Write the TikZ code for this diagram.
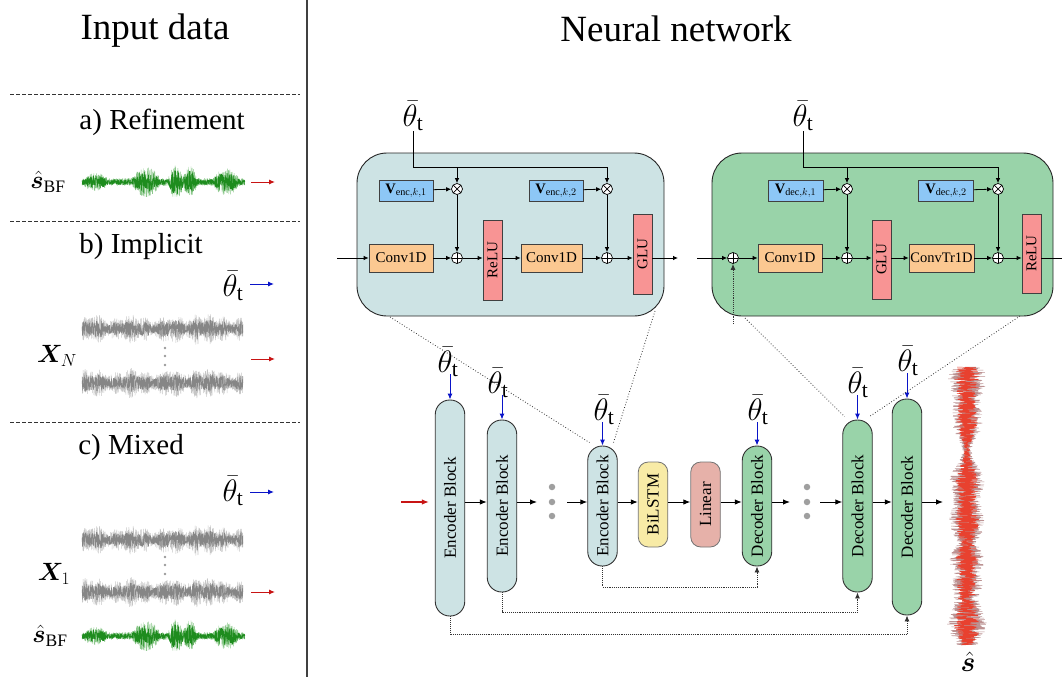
\RequirePackage{fix-cm}
\documentclass[tikz,border=0pt]{standalone}
\usepackage{amsmath}
\usepackage{bm}
\usepackage{fontspec}
\setmainfont{Liberation Serif}
\usetikzlibrary{arrows.meta,calc}

\definecolor{encfill}{HTML}{CDE3E4}
\definecolor{decfill}{HTML}{99D3A9}
\definecolor{vfill}{HTML}{8DC7F6}
\definecolor{convfill}{HTML}{FBC891}
\definecolor{actfill}{HTML}{F89494}
\definecolor{lstmfill}{HTML}{F8EBA6}
\definecolor{linfill}{HTML}{E6B1A9}
\definecolor{condblue}{HTML}{0A14C8}
\definecolor{inred}{HTML}{C81414}
\definecolor{wgreen}{HTML}{1E8C1E}
\definecolor{wgreenlt}{HTML}{8CC88C}
\definecolor{wgray}{HTML}{868686}
\definecolor{wgraylt}{HTML}{C6C6C6}
\definecolor{wred}{HTML}{E8412F}
\definecolor{wredlt}{HTML}{BC9292}

\newcommand{\condtheta}{$\bar{\theta}_{\mathrm{t}}$}
\newcommand{\sbf}{$\hat{\bm{s}}_{\mathrm{BF}}$}

\begin{document}
\begin{tikzpicture}[
  x=1pt, y=-1pt,
  declare function={
    bump(\x,\c,\w)=max(0,1-((\x-\c)/\w)*((\x-\c)/\w));
    grn(\x)=0.26+0.75*bump(\x,64,14)+0.85*bump(\x,94,8)+0.8*bump(\x,108,7)+0.65*bump(\x,144,13)+0.35*bump(\x,14,12);
    gry(\x)=0.7+0.14*sin(9*\x)+0.12*sin(23*\x+50)+0.4*bump(\x,115,5);
    rdv(\x)=0.55+0.2*sin(3.3*\x)+0.15*sin(7.1*\x+30)+0.5*bump(\x,190,14);
  },
  ttl/.style={font=\fontsize{37}{42}\selectfont, inner sep=0pt},
  case/.style={font=\fontsize{29}{33}\selectfont, inner sep=0pt},
  sig/.style={font=\fontsize{25}{28}\selectfont, inner sep=0pt},
  cond/.style={font=\fontsize{31}{34}\selectfont, inner sep=0pt},
  vsep/.style={draw=black!75, line width=1.1pt},
  divider/.style={draw=black!80, line width=0.8pt, dash pattern=on 3.5pt off 2.5pt},
  inarrow/.style={draw=inred, line width=1pt, -{Latex[length=6pt,width=5pt]}},
  condarrow/.style={draw=condblue, line width=1pt, -{Latex[length=6pt,width=5pt]}},
  blk/.style={draw=black!80, line width=0.9pt, rounded corners=14.5pt, minimum width=29.5pt, inner sep=0pt, font=\fontsize{17}{19}\selectfont},
  encblk/.style={blk, fill=encfill},
  decblk/.style={blk, fill=decfill},
  midblk/.style={draw=black!55, line width=0.8pt, rounded corners=10pt, minimum width=29.5pt, minimum height=85pt, inner sep=0pt, font=\fontsize{17}{19}\selectfont},
  flowarrow/.style={draw=black, line width=1pt, -{Latex[length=7pt,width=5.5pt]}},
  skipline/.style={draw=black!80, line width=0.9pt, densely dotted, -{Latex[length=6pt,width=5pt]}},
  zoomline/.style={draw=black!80, line width=0.8pt, dotted},
  panel/.style={draw=black!85, line width=0.9pt, rounded corners=30pt, inner sep=0pt},
  op/.style={draw=black!75, line width=0.7pt, inner sep=0pt, minimum height=28pt, font=\fontsize{15}{17}\selectfont},
  conv/.style={op, fill=convfill},
  act/.style={op, fill=actfill, minimum width=19pt, minimum height=80pt},
  vec/.style={draw=black!75, line width=0.7pt, fill=vfill, inner sep=0pt, minimum width=54pt, minimum height=21pt, font=\fontsize{14.5}{16}\selectfont},
  sumnode/.style={circle, draw=black, line width=0.7pt, fill=white, minimum size=11pt, inner sep=0pt,
    path picture={\draw[line width=0.7pt] (path picture bounding box.north) -- (path picture bounding box.south)
      (path picture bounding box.west) -- (path picture bounding box.east);}},
  prodnode/.style={circle, draw=black, line width=0.7pt, fill=white, minimum size=11pt, inner sep=0pt,
    path picture={\draw[line width=0.7pt] (path picture bounding box.north west) -- (path picture bounding box.south east)
      (path picture bounding box.north east) -- (path picture bounding box.south west);}},
  wire/.style={draw=black, line width=0.8pt},
  warrow/.style={wire, -{Latex[length=5pt,width=4.5pt]}},
  cdot/.style={circle, fill=gray!75, inner sep=0pt, minimum size=6.5pt},
  sdot/.style={circle, fill=gray!80, inner sep=0pt, minimum size=2.6pt},
  pics/greenwave/.style={code={
    \pgfmathsetseed{41}
    \draw[wgreenlt, line width=0.45pt, line join=bevel] plot[domain=0:163, samples=1100] (\x, {15*grn(\x)*rand});
    \pgfmathsetseed{42}
    \draw[wgreen, line width=0.45pt, line join=bevel] plot[domain=0:163, samples=1100] (\x, {11*grn(\x)*rand});
  }},
  pics/graywave/.style={code={
    \pgfmathsetseed{#1}
    \draw[wgraylt, line width=0.45pt, line join=bevel] plot[domain=0:161, samples=1000] (\x, {16*gry(\x)*rand});
    \pgfmathsetseed{#1+5}
    \draw[wgray, line width=0.45pt, line join=bevel] plot[domain=0:161, samples=1000] (\x, {10*gry(\x)*rand});
  }},
  pics/redwave/.style={code={
    \pgfmathsetseed{77}
    \draw[wredlt, line width=0.45pt, line join=bevel] plot[variable=\t, domain=0:278, samples=1800] ({24*rdv(\t)*rand}, \t);
    \pgfmathsetseed{78}
    \draw[wred, line width=0.45pt, line join=bevel] plot[variable=\t, domain=0:278, samples=1800] ({16*rdv(\t)*rand}, \t);
  }}
]
\useasboundingbox (0,0) rectangle (1062,677);

% ---------------- input data column ----------------
\draw[vsep] (307,0) -- (307,677);
\node[ttl] (tin) at (155,31) {Input data};
\node[ttl] (tnn) at (676,29) {Neural network};
\draw[divider] (10,94) -- (300,94);
\draw[divider] (10,221) -- (300,221);
\draw[divider] (10,422) -- (300,422);

% a) refinement
\node[case] (ca) at (162,122) {a) Refinement};
\node[sig] (sa) at (48,182) {\sbf};
\pic at (82,182) {greenwave};
\coordinate (ra0) at (251,182); \coordinate (ra1) at (275,182);
\draw[inarrow] (ra0) -- (ra1);

% b) implicit
\node[case] (cb) at (141,247) {b) Implicit};
\node[cond] (tb) at (233,286) {\condtheta};
\coordinate (ba0) at (250,284); \coordinate (ba1) at (274,284);
\draw[condarrow] (ba0) -- (ba1);
\pic at (82,329) {graywave=11};
\pic at (82,383) {graywave=23};
\node[sdot] (bd1) at (165,348) {};
\node[sdot] (bd2) at (165,356) {};
\node[sdot] (bd3) at (165,365) {};
\node[sig] (xn) at (57,356) {$\bm{X}_{N}$};
\coordinate (rb0) at (251,359); \coordinate (rb1) at (275,359);
\draw[inarrow] (rb0) -- (rb1);

% c) mixed
\node[case] (cc) at (131,448) {c) Mixed};
\node[cond] (tc) at (233,491) {\condtheta};
\coordinate (bc0) at (250,492); \coordinate (bc1) at (274,492);
\draw[condarrow] (bc0) -- (bc1);
\pic at (82,540) {graywave=11};
\pic at (82,592) {graywave=23};
\node[sdot] (cd1) at (165,557) {};
\node[sdot] (cd2) at (165,565) {};
\node[sdot] (cd3) at (165,574) {};
\node[sig] (x1) at (54,574) {$\bm{X}_{1}$};
\coordinate (rc0) at (251,592); \coordinate (rc1) at (275,592);
\draw[inarrow] (rc0) -- (rc1);
\pic at (82,636) {greenwave};
\node[sig] (sc) at (50,636) {\sbf};

% ---------------- encoder block detail ----------------
\node[panel, fill=encfill, minimum width=307pt, minimum height=163pt] (ebox) at (510.5,234.5) {};
\node[cond] (tE) at (413,116) {\condtheta};
\node[vec] (vE1) at (406,190.5) {$\mathbf{V}_{\mathrm{enc},k,1}$};
\node[vec] (vE2) at (556,190.5) {$\mathbf{V}_{\mathrm{enc},k,2}$};
\node[prodnode] (mE1) at (457,189) {};
\node[prodnode] (mE2) at (607,189) {};
\node[conv, minimum width=64pt] (cE1) at (401,258) {Conv1D};
\node[sumnode] (pE1) at (457,258) {};
\node[act] (rE) at (492.5,260) {\rotatebox{90}{ReLU}};
\node[conv, minimum width=61pt] (cE2) at (551.5,258) {Conv1D};
\node[sumnode] (pE2) at (607,258) {};
\node[act] (gE) at (642.5,254) {\rotatebox{90}{GLU}};
\coordinate (jE) at (0,167);
\coordinate (inE) at (337,258);
\coordinate (outE) at (678,258);
\draw[warrow] (tE.south) -- (tE.south |- jE) -| (mE2.north);
\draw[warrow] (mE1 |- jE) -- (mE1.north);
\draw[warrow] (vE1) -- (mE1);
\draw[warrow] (vE2) -- (mE2);
\draw[warrow] (mE1) -- (pE1);
\draw[warrow] (mE2) -- (pE2);
\draw[warrow] (inE) -- (cE1);
\draw[warrow] (cE1) -- (pE1);
\draw[warrow] (pE1) -- (rE.west |- pE1);
\draw[warrow] (rE.east |- pE1) -- (cE2);
\draw[warrow] (cE2) -- (pE2);
\draw[warrow] (pE2) -- (gE.west |- pE2);
\draw[warrow] (gE.east |- pE2) -- (outE);

% ---------------- decoder block detail ----------------
\node[panel, fill=decfill, minimum width=341pt, minimum height=163pt] (dbox) at (882.5,234.5) {};
\node[cond] (tD) at (803,116) {\condtheta};
\node[vec, minimum width=55pt] (vD1) at (795.5,190.5) {$\mathbf{V}_{\mathrm{dec},k,1}$};
\node[vec, minimum width=55pt] (vD2) at (946,190.5) {$\mathbf{V}_{\mathrm{dec},k,2}$};
\node[prodnode] (mD1) at (847,189) {};
\node[prodnode] (mD2) at (998,189) {};
\node[sumnode] (pD0) at (733,258) {};
\node[conv, minimum width=64pt] (cD1) at (790,258) {Conv1D};
\node[sumnode] (pD1) at (847,258) {};
\node[act, minimum height=79pt] (gD) at (881.5,259.5) {\rotatebox{90}{GLU}};
\node[conv, minimum width=65pt, font=\fontsize{14.5}{16}\selectfont] (cD2) at (941.5,258) {ConvTr1D};
\node[sumnode] (pD2) at (998,258) {};
\node[act, minimum height=79pt] (rD) at (1031.5,253.5) {\rotatebox{90}{ReLU}};
\coordinate (jD) at (0,167);
\coordinate (inD) at (697,258);
\coordinate (outD) at (1064,258);
\coordinate (skD) at (733,324);
\draw[warrow] (tD.south) -- (tD.south |- jD) -| (mD2.north);
\draw[warrow] (mD1 |- jD) -- (mD1.north);
\draw[warrow] (vD1) -- (mD1);
\draw[warrow] (vD2) -- (mD2);
\draw[warrow] (mD1) -- (pD1);
\draw[warrow] (mD2) -- (pD2);
\draw[warrow] (inD) -- (pD0);
\draw[skipline] (skD) -- (pD0.south);
\draw[warrow] (pD0) -- (cD1);
\draw[warrow] (cD1) -- (pD1);
\draw[warrow] (pD1) -- (gD.west |- pD1);
\draw[warrow] (gD.east |- pD1) -- (cD2);
\draw[warrow] (cD2) -- (pD2);
\draw[warrow] (pD2) -- (rD.west |- pD2);
\draw[wire] (rD.east |- pD2) -- (outD);

% ---------------- U-Net pipeline ----------------
\coordinate (fl) at (0,502);
\node[encblk, minimum height=216pt] (e1) at (450,508) {\rotatebox{90}{Encoder Block}};
\node[encblk, minimum height=172pt] (e2) at (502,506) {\rotatebox{90}{Encoder Block}};
\node[encblk, minimum height=120pt] (e3) at (602.5,506) {\rotatebox{90}{Encoder Block}};
\node[midblk, fill=lstmfill] (lstm) at (653,504.5) {\rotatebox{90}{BiLSTM}};
\node[midblk, fill=linfill] (lin) at (705.5,504.5) {\rotatebox{90}{Linear}};
\node[decblk, minimum height=120pt] (d1) at (757,506) {\rotatebox{90}{Decoder Block}};
\node[decblk, minimum height=172pt] (d2) at (857.5,506) {\rotatebox{90}{Decoder Block}};
\node[decblk, minimum height=216pt] (d3) at (907,507) {\rotatebox{90}{Decoder Block}};

\node[cdot] (ed1) at (552,487) {};
\node[cdot] (ed2) at (552,502) {};
\node[cdot] (ed3) at (552,516) {};
\node[cdot] (dd1) at (807,487) {};
\node[cdot] (dd2) at (807,502) {};
\node[cdot] (dd3) at (807,516) {};

\coordinate (nin) at (401,502);
\coordinate (ea) at (537,502);
\coordinate (eb) at (567,502);
\coordinate (da) at (790,502);
\coordinate (db) at (820,502);
\coordinate (nout) at (943,502);
\draw[inarrow, line width=1.1pt, -{Latex[length=7pt,width=5.5pt]}] (nin) -- ([xshift=-6pt]e1.west |- fl);
\draw[flowarrow] (e1.east |- fl) -- (e2.west |- fl);
\draw[flowarrow] (e2.east |- fl) -- (ea);
\draw[flowarrow] (eb) -- (e3.west |- fl);
\draw[flowarrow] (e3.east |- fl) -- (lstm.west |- fl);
\draw[flowarrow] (lstm.east |- fl) -- (lin.west |- fl);
\draw[flowarrow] (lin.east |- fl) -- (d1.west |- fl);
\draw[flowarrow] (d1.east |- fl) -- (da);
\draw[flowarrow] (db) -- (d2.west |- fl);
\draw[flowarrow] (d2.east |- fl) -- (d3.west |- fl);
\draw[flowarrow] (d3.east |- fl) -- (nout);

% conditioning inputs
\node[cond] (te1) at (448,362) {\condtheta};
\node[cond] (te2) at (498,383) {\condtheta};
\node[cond] (te3) at (604,410) {\condtheta};
\node[cond] (td1) at (758,410) {\condtheta};
\node[cond] (td2) at (858,383) {\condtheta};
\node[cond] (td3) at (908,361) {\condtheta};
\foreach \t/\b in {te1/e1, te2/e2, te3/e3, td1/d1, td2/d2, td3/d3}
  \draw[condarrow] ([yshift=3pt]\t.south -| \b.north) -- (\b.north);

% skip connections
\coordinate (s1) at (0,587);
\coordinate (s2) at (0,612);
\coordinate (s3) at (0,634);
\draw[skipline] (e3.south) -- (e3.south |- s1) -| (d1.south);
\draw[skipline] (e2.south) -- (e2.south |- s2) -| (d2.south);
\draw[skipline] (e1.south) -- (e1.south |- s3) -| (d3.south);

% zoom guides
\coordinate (zE1) at (390,317);
\coordinate (zE2) at (655,311);
\coordinate (zD1) at (745,318);
\coordinate (zD2) at (1020,316);
\draw[zoomline] (zE1) -- ($(e3.north)+(-13,-3)$);
\draw[zoomline] (zE2) -- ($(e3.north)+(11,-3)$);
\draw[zoomline] (zD1) -- ($(d2.north)+(-13,-3)$);
\draw[zoomline] (zD2) -- ($(d2.north)+(12,-3)$);

% estimated output signal
\pic at (967,367) {redwave};
\node[sig, font=\fontsize{28}{30}\selectfont] (shat) at (968,662) {$\hat{\bm{s}}$};
\end{tikzpicture}
\end{document}
